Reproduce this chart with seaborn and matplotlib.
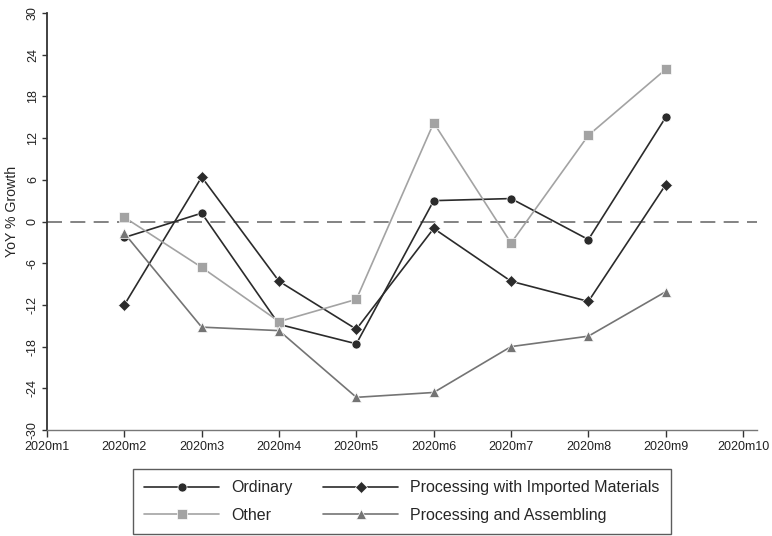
import pandas as pd
import numpy as np
import matplotlib
matplotlib.use("Agg")
import matplotlib.pyplot as plt
import seaborn as sns

# Data (YoY % growth by trade mode)
months = [2, 3, 4, 5, 6, 7, 8, 9]
tick_months = list(range(1, 11))
tick_labels = [f"2020m{m}" for m in tick_months]

ordinary = [-2.3, 1.2, -14.8, -17.6, 3.0, 3.3, -2.6, 15.0]
imported_materials = [-12.0, 6.4, -8.6, -15.5, -1.0, -8.6, -11.5, 5.3]
other = [0.6, -6.6, -14.4, -11.2, 14.2, -3.1, 12.4, 21.9]
assembling = [-1.7, -15.2, -15.7, -25.3, -24.6, -18.0, -16.5, -10.1]

series_names = ["Ordinary", "Processing with Imported Materials",
                "Other", "Processing and Assembling"]
series_values = [ordinary, imported_materials, other, assembling]

df = pd.concat(
    [pd.DataFrame({"month": months, "growth": vals, "series": name})
     for name, vals in zip(series_names, series_values)],
    ignore_index=True,
)

sns.set_theme(style="white")
plt.rcParams['font.family'] = ['Liberation Sans', 'DejaVu Sans']

palette = {
    "Ordinary": "#2b2b2b",
    "Processing with Imported Materials": "#2b2b2b",
    "Other": "#a3a3a3",
    "Processing and Assembling": "#747474",
}
markers = {
    "Ordinary": "o",
    "Processing with Imported Materials": "D",
    "Other": "s",
    "Processing and Assembling": "^",
}

fig = plt.figure(figsize=(7.72, 5.36), dpi=100)
ax = fig.add_axes([47 / 772, 1 - 430 / 536, 710 / 772, 417 / 536])

sns.lineplot(data=df, x="month", y="growth", hue="series", style="series",
             hue_order=series_names, style_order=series_names,
             palette=palette, markers=markers, dashes=False,
             linewidth=1.2, markersize=6.5, markeredgewidth=0.5, ax=ax)

# zero reference line
ax.axhline(0, color="#6e6e6e", lw=1.2, dashes=(9, 5), zorder=0)

ax.set_xlim(1, 10.18)
ax.set_ylim(-30, 30)
ax.set_xticks(tick_months)
ax.set_xticklabels(tick_labels, fontsize=9)
ax.set_yticks(np.arange(-30, 31, 6))
ax.set_yticklabels([str(v) for v in range(-30, 31, 6)], fontsize=9,
                   rotation=90, va="center")
ax.set_xlabel("")
ax.set_ylabel("YoY % Growth", fontsize=10.2)
ax.yaxis.set_label_coords(-0.039, 0.523)

for side in ["top", "right"]:
    ax.spines[side].set_visible(False)
ax.spines["left"].set_color("#333333")
ax.spines["bottom"].set_color("#777777")
ax.spines["left"].set_linewidth(1.3)
ax.spines["bottom"].set_linewidth(1.0)
ax.tick_params(axis="x", direction="out", length=5, width=1.0,
               colors="#333333", labelcolor="#222222", pad=3, bottom=True)
ax.tick_params(axis="y", direction="out", length=3.6, width=1.0,
               colors="#333333", labelcolor="#222222", pad=2.2, left=True)

handles, labels = ax.get_legend_handles_labels()
ax.get_legend().remove()
lookup = dict(zip(labels, handles))
order = ["Ordinary", "Other", "Processing with Imported Materials",
         "Processing and Assembling"]
leg = fig.legend([lookup[k] for k in order], order, ncol=2,
                 loc="center", bbox_to_anchor=(402 / 772, 1 - 501.5 / 536),
                 frameon=True, fancybox=False, fontsize=11.5,
                 handlelength=4.7, columnspacing=1.9, handletextpad=0.75,
                 labelspacing=0.8, borderpad=0.7)
leg.get_frame().set_edgecolor("#333333")
leg.get_frame().set_linewidth(1.0)

fig.savefig("out.png", dpi=100)
